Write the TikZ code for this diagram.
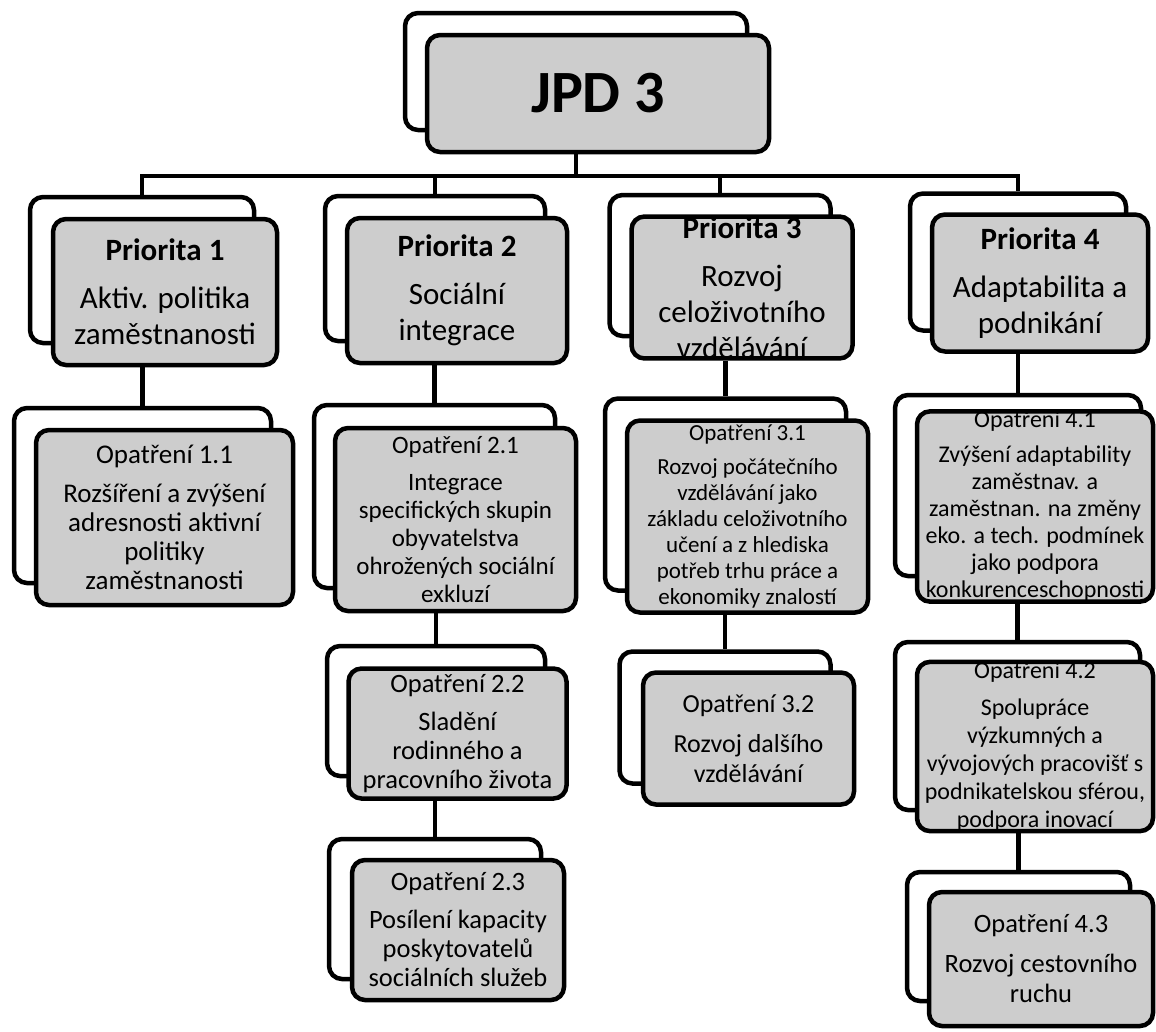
\documentclass[tikz,border=0pt]{standalone}
\usepackage{fontspec}
\setmainfont{Carlito}
\definecolor{boxgray}{RGB}{205,205,205}

\begin{document}
\begin{tikzpicture}[x=1pt,y=-1pt,
  backbox/.style={draw,line width=4.5pt,rounded corners=13pt,fill=white,inner sep=0pt},
  frontbox/.style={backbox,fill=boxgray,align=center},
  sz/.style 2 args={minimum width=#1pt,minimum height=#2pt},
  fs/.style 2 args={font=\fontsize{#1}{#2}\selectfont},
  link/.style={line width=4.5pt}]
\useasboundingbox (0,0) rectangle (1156,1031);

\node[backbox,sz={342}{117}] (jpdb) at (576,71.5) {};
\node[frontbox,sz={342}{117},fs={60}{66}] (jpd) at ([shift={(22,22)}]jpdb.center) {\bfseries JPD 3};

% priority level
\node[backbox,sz={224}{146}] (p1b) at (142,270) {};
\node[frontbox,sz={224}{146},fs={31}{36}] (p1) at ([shift={(23,22)}]p1b.center)
  {\textbf{Priorita 1}\\[12pt]Aktiv. politika\\zaměstnanosti};
\node[backbox,sz={220}{145}] (p2b) at (435,268.5) {};
\node[frontbox,sz={220}{145},fs={31}{36}] (p2) at ([shift={(22,22)}]p2b.center)
  {\textbf{Priorita 2}\\[12pt]Sociální\\integrace};
\node[backbox,sz={221}{141}] (p3b) at (720,265.5) {};
\node[frontbox,sz={221}{141},fs={31}{36}] (p3) at ([shift={(22,22)}]p3b.center)
  {\textbf{Priorita 3}\\[12pt]Rozvoj\\celoživotního\\vzdělávání};
\node[backbox,sz={216}{137}] (p4b) at (1018,262) {};
\node[frontbox,sz={216}{137},fs={31}{36}] (p4) at ([shift={(22,21)}]p4b.center)
  {\textbf{Priorita 4}\\[12pt]Adaptabilita a\\podnikání};

% measures
\node[backbox,sz={257}{175}] (o11b) at (142.5,495.5) {};
\node[frontbox,sz={257}{175},fs={27}{29}] (o11) at ([shift={(22,22)}]o11b.center)
  {Opatření 1.1\\[10pt]Rozšíření a zvýšení\\adresnosti aktivní\\politiky\\zaměstnanosti};

\node[backbox,sz={241}{183}] (o21b) at (434.5,496.5) {};
\node[frontbox,sz={241}{183},fs={25}{28}] (o21) at ([shift={(21,23)}]o21b.center)
  {Opatření 2.1\\[9pt]Integrace\\specifických skupin\\obyvatelstva\\ohrožených sociální\\exkluzí};
\node[backbox,sz={218}{130}] (o22b) at (436,711) {};
\node[frontbox,sz={218}{130},fs={26.5}{29}] (o22) at ([shift={(21.5,22.5)}]o22b.center)
  {Opatření 2.2\\[9pt]Sladění\\rodinného a\\pracovního života};
\node[backbox,sz={212}{140}] (o23b) at (435,909) {};
\node[frontbox,sz={212}{140},fs={26.5}{29}] (o23) at ([shift={(23,21)}]o23b.center)
  {Opatření 2.3\\[9pt]Posílení kapacity\\poskytovatelů\\sociálních služeb};

\node[backbox,sz={241}{192}] (o31b) at (725.5,494.5) {};
\node[frontbox,sz={241}{192},fs={23}{26}] (o31) at ([shift={(22,22)}]o31b.center)
  {Opatření 3.1\\[8pt]Rozvoj počátečního\\vzdělávání jako\\základu celoživotního\\učení a z hlediska\\potřeb trhu práce a\\ekonomiky znalostí};
\node[backbox,sz={211}{132}] (o32b) at (725,717.5) {};
\node[frontbox,sz={211}{132},fs={26}{30}] (o32) at ([shift={(23.5,21)}]o32b.center)
  {Opatření 3.2\\[10pt]Rozvoj dalšího\\vzdělávání};

\node[backbox,sz={246}{181}] (o41b) at (1018,485.5) {};
\node[frontbox,sz={236}{183},fs={24}{27}] (o41) at (1035,506.5)
  {Opatření 4.1\\[8pt]Zvýšení adaptability\\zaměstnav. a\\zaměstnan. na změny\\eko. a tech. podmínek\\jako podpora\\konkurenceschopnosti};
\node[backbox,sz={245}{168}] (o42b) at (1017.5,726) {};
\node[frontbox,sz={236}{169},fs={24}{28}] (o42) at (1035,746.5)
  {Opatření 4.2\\[9pt]Spolupráce\\výzkumných a\\vývojových pracovišť s\\podnikatelskou sférou,\\podpora inovací};
\node[backbox,sz={223}{129}] (o43b) at (1018.5,936.5) {};
\node[frontbox,sz={224}{134},fs={26.5}{30}] (o43) at (1041,959)
  {Opatření 4.3\\[10pt]Rozvoj cestovního\\ruchu};

% connectors
\coordinate (bus) at (576,176);
\draw[link] (jpd.south -| jpdb.center) -- (bus);
\draw[link] (bus) -| (p1b.north);
\draw[link] (bus) -| (p2b.north);
\draw[link] (bus) -| (p3b.north);
\draw[link] (bus) -| (p4b.north);
\draw[link] (p1.south -| o11b.north) -- (o11b.north);
\draw[link] (p2.south -| o21b.north) -- (o21b.north);
\draw[link] (o21.south -| o22b.north) -- (o22b.north);
\draw[link] (o22.south -| o23b.north) -- (o23b.north);
\draw[link] (p3.south -| o31b.north) -- (o31b.north);
\draw[link] (o31.south -| o32b.north) -- (o32b.north);
\draw[link] (p4.south -| o41b.north) -- (o41b.north);
\draw[link] (o41.south -| o42b.north) -- (o42b.north);
\draw[link] (o42.south -| o43b.north) -- (o43b.north);
\end{tikzpicture}
\end{document}
